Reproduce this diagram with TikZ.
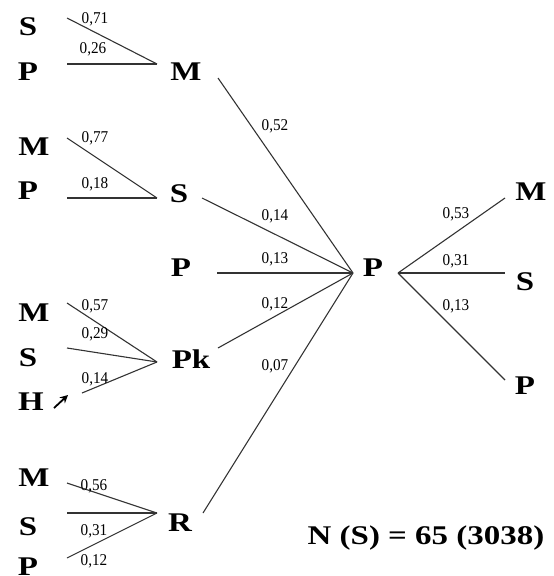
\documentclass[tikz,border=0pt]{standalone}
\usepackage{fontspec}
\setmainfont{Liberation Serif}
\newfontfamily\letterfont[FakeStretch=1.22]{Liberation Serif}
\newfontfamily\numfont[FakeStretch=0.92]{Liberation Serif}
\usetikzlibrary{arrows.meta}
\tikzset{
  let/.style={inner sep=0pt, anchor=center, font=\letterfont\bfseries\fontsize{27}{27}\selectfont},
  num/.style={inner sep=0pt, anchor=base, font=\numfont\fontsize{16.5}{17}\selectfont},
  ln/.style={line width=1.1pt, draw=black!80},
}
\begin{document}
\begin{tikzpicture}[x=1pt,y=-1pt]
\useasboundingbox (0,0) rectangle (554,576);
% group 1
\node[let] (S1) at (28,27) {S};
\node[let] (P1) at (28,72) {P};
\node[let] (M1) at (186,72) {M};
\coordinate (a1) at (67,18); \coordinate (b1) at (67,64); \coordinate (c1) at (157,64);
\draw[ln] (a1) -- (c1); \draw[ln] (b1) -- (c1);
\node[num] (n71) at (95,23) {0,71};
\node[num] (n26) at (93,53) {0,26};
% group 2
\node[let] (M2) at (34,147) {M};
\node[let] (P2) at (28,191) {P};
\node[let] (S2) at (179,194) {S};
\coordinate (a2) at (67,138); \coordinate (b2) at (67,198); \coordinate (c2) at (157,198);
\draw[ln] (a2) -- (c2); \draw[ln] (b2) -- (c2);
\node[num] (n77) at (95,142) {0,77};
\node[num] (n18) at (95,188) {0,18};
% P alone
\node[let] (P3) at (181,268) {P};
% group 3
\node[let] (M3) at (34,313) {M};
\node[let] (S3) at (28,358) {S};
\node[let] (H3) at (31,402) {H};
\node[let] (Pk) at (191,359) {Pk};
\coordinate (a3) at (67,303); \coordinate (b3) at (67,348); \coordinate (d3) at (82,393); \coordinate (c3) at (157,362);
\draw[ln] (a3) -- (c3); \draw[ln] (b3) -- (c3); \draw[ln] (d3) -- (c3);
\coordinate (h0) at (54,408); \coordinate (h1) at (68,395);
\draw[line width=1.8pt, -{Stealth[length=8pt,width=8pt]}] (h0) -- (h1);
\node[num] (n57) at (95,310) {0,57};
\node[num] (n29) at (95,338) {0,29};
\node[num] (n14a) at (95,383) {0,14};
% group 4
\node[let] (M4) at (34,478) {M};
\node[let] (S4) at (28,527) {S};
\node[let] (P4) at (28,567) {P};
\node[let] (R) at (180,523) {R};
\coordinate (a4) at (67,483); \coordinate (b4) at (67,513); \coordinate (d4) at (67,558); \coordinate (c4) at (157,513);
\draw[ln] (a4) -- (c4); \draw[ln] (b4) -- (c4); \draw[ln] (d4) -- (c4);
\node[num] (n56) at (94,490) {0,56};
\node[num] (n31a) at (94,535) {0,31};
\node[num] (n12a) at (94,565) {0,12};
% centre
\node[let] (PC) at (373,268) {P};
\coordinate (cL) at (353,273);
\coordinate (e1) at (218,78); \coordinate (e2) at (202,198); \coordinate (e3) at (217,273);
\coordinate (e4) at (218,348); \coordinate (e5) at (203,513);
\draw[ln] (e1) -- (cL); \draw[ln] (e2) -- (cL); \draw[ln] (e3) -- (cL);
\draw[ln] (e4) -- (cL); \draw[ln] (e5) -- (cL);
\node[num] (n52) at (275,130) {0,52};
\node[num] (n14b) at (275,220) {0,14};
\node[num] (n13a) at (275,263) {0,13};
\node[num] (n12b) at (275,308) {0,12};
\node[num] (n07) at (275,370) {0,07};
% right
\node[let] (MR) at (531,192) {M};
\node[let] (SR) at (525,282) {S};
\node[let] (PR) at (525,386) {P};
\coordinate (cR) at (398,273);
\coordinate (f1) at (505,198); \coordinate (f2) at (505,273); \coordinate (f3) at (505,380);
\draw[ln] (cR) -- (f1); \draw[ln] (cR) -- (f2); \draw[ln] (cR) -- (f3);
\node[num] (n53) at (456,218) {0,53};
\node[num] (n31b) at (456,265) {0,31};
\node[num] (n13b) at (456,310) {0,13};
% total
\node[let] (tot) at (426,538) {N (S) = 65 (3038)};
\end{tikzpicture}
\end{document}
